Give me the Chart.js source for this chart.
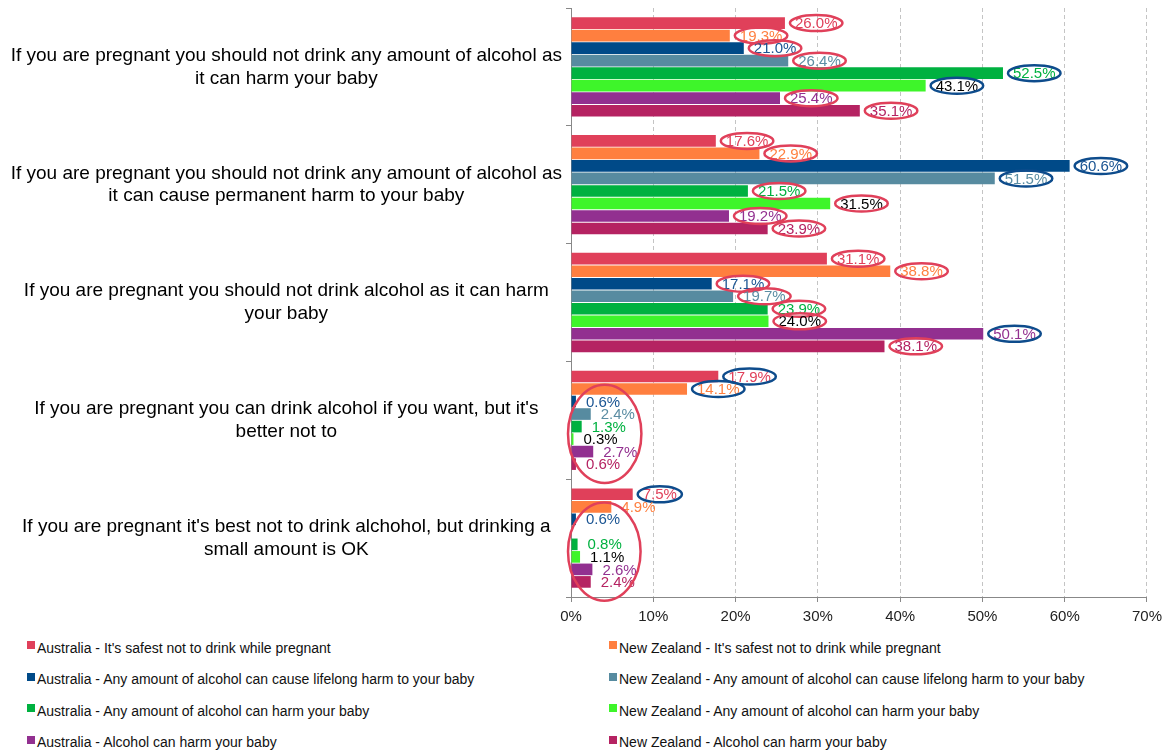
<!DOCTYPE html>
<html>
<head>
<meta charset="utf-8">
<script src="https://cdn.jsdelivr.net/npm/chart.js@4.4.1/dist/chart.umd.min.js"></script>
<style>
  body { margin: 0; background: #fff; font-family: "Liberation Sans", Arial, sans-serif; }
  #wrap { position: relative; width: 1168px; height: 632px; }
  #legend { display: grid; grid-template-columns: 582px 586px; }
  .item { height: 31.5px; display: flex; align-items: center; font-size: 14px; color: #111; white-space: nowrap; padding-left: 27px; }
  .box { width: 8px; height: 8px; margin-right: 2px; margin-top: -5px; }
</style>
</head>
<body>
<div id="wrap"><canvas id="myChart" width="1168" height="632"></canvas></div>
<div id="legend"></div>
<script>
const categories = [
  ["If you are pregnant you should not drink any amount of alcohol as", "it can harm your baby"],
  ["If you are pregnant you should not drink any amount of alcohol as", "it can cause permanent harm to your baby"],
  ["If you are pregnant you should not drink alcohol as it can harm", "your baby"],
  ["If you are pregnant you can drink alcohol if you want, but it's", "better not to"],
  ["If you are pregnant it's best not to drink alchohol, but drinking a", "small amount is OK"]
];

const seriesNames = [
  "Australia - It's safest not to drink while pregnant",
  "New Zealand - It's safest not to drink while pregnant",
  "Australia - Any amount of alcohol can cause lifelong harm to your baby",
  "New Zealand - Any amount of alcohol can cause lifelong harm to your baby",
  "Australia - Any amount of alcohol can harm your baby",
  "New Zealand - Any amount of alcohol can harm your baby",
  "Australia - Alcohol can harm your baby",
  "New Zealand - Alcohol can harm your baby"
];

const ausSafest   = [26.0, 17.6, 31.1, 17.9, 7.5];
const nzSafest    = [19.3, 22.9, 38.8, 14.1, 4.9];
const ausLifelong = [21.0, 60.6, 17.1, 0.6, 0.6];
const nzLifelong  = [26.4, 51.5, 19.7, 2.4, null];
const ausAnyHarm  = [52.5, 21.5, 23.9, 1.3, 0.8];
const nzAnyHarm   = [43.1, 31.5, 24.0, 0.3, 1.1];
const ausHarm     = [25.4, 19.2, 50.1, 2.7, 2.6];
const nzHarm      = [35.1, 23.9, 38.1, 0.6, 2.4];

const xTicks = [0, 10, 20, 30, 40, 50, 60, 70];

// styling
const barColors = ['#E0405A', '#FF7F3F', '#004A88', '#578BA0', '#00B140', '#3EF52A', '#923090', '#B52362'];
const labelColors = ['#E0405A', '#FF8040', '#1B5593', '#5B8DA3', '#00B140', '#000000', '#933190', '#B52362'];
const RED = '#E0405A', BLUE = '#0E4C8C';
// hand drawn rings around labels, per category
const rings = [
  ['r', 'r', 'r', 'r', 'b', 'b', 'r', 'r'],
  ['r', 'r', 'b', 'b', 'r', 'r', 'r', 'r'],
  ['r', 'r', 'r', 'r', 'r', 'r', 'b', 'r'],
  ['b', 'b', '', '', '', '', '', ''],
  ['b', '', '', '', '', '', '', '']
];
const groupRing = [false, false, false, true, true];

const allSeries = [ausSafest, nzSafest, ausLifelong, nzLifelong, ausAnyHarm, nzAnyHarm, ausHarm, nzHarm];

const labelPlugin = {
  id: 'barLabels',
  afterDatasetsDraw(chart) {
    const ctx = chart.ctx;
    const x0 = chart.scales.x.getPixelForValue(0);
    const rightMost = [];
    ctx.save();
    ctx.font = '15px "Liberation Sans", Arial, sans-serif';
    ctx.textBaseline = 'middle';
    chart.data.datasets.forEach((ds, di) => {
      const meta = chart.getDatasetMeta(di);
      meta.data.forEach((bar, i) => {
        const v = ds.data[i];
        if (v == null) return;
        const txt = v.toFixed(1) + '%';
        const w = ctx.measureText(txt).width;
        const x = bar.x + 10;
        const y = bar.y + 1;
        ctx.fillStyle = labelColors[di];
        ctx.fillText(txt, x, y);
        if (di >= 2) rightMost[i] = Math.max(rightMost[i] || 0, x + w);
        const r = rings[i][di];
        if (r) {
          ctx.strokeStyle = r === 'r' ? RED : BLUE;
          ctx.lineWidth = 2.5;
          ctx.beginPath();
          ctx.ellipse(x + w / 2, y - 1, w / 2 + 5, 8, 0, 0, Math.PI * 2);
          ctx.stroke();
        }
      });
    });
    groupRing.forEach((on, i) => {
      if (!on) return;
      const a = chart.getDatasetMeta(2).data[i];
      const b = chart.getDatasetMeta(7).data[i];
      const top = a.y - a.height / 2, bottom = b.y + b.height / 2;
      const left = x0 - 3, right = rightMost[i] + 4;
      ctx.strokeStyle = RED;
      ctx.lineWidth = 2.5;
      ctx.beginPath();
      ctx.ellipse((left + right) / 2, (top + bottom) / 2 + 1, (right - left) / 2, (bottom - top) / 2 + 12, 0, 0, Math.PI * 2);
      ctx.stroke();
    });
    ctx.restore();
  }
};

const chart = new Chart(document.getElementById('myChart'), {
  type: 'bar',
  data: {
    labels: categories,
    datasets: allSeries.map((d, i) => ({
      label: seriesNames[i],
      data: d,
      backgroundColor: barColors[i],
      categoryPercentage: 0.85,
      barPercentage: 0.93
    }))
  },
  options: {
    indexAxis: 'y',
    responsive: false,
    animation: false,
    devicePixelRatio: 1,
    layout: { padding: { top: 8, right: 19, bottom: 0, left: 0 } },
    plugins: { legend: { display: false }, tooltip: { enabled: false } },
    scales: {
      x: {
        min: 0, max: 70,
        afterBuildTicks: s => { s.ticks = xTicks.map(v => ({ value: v })); },
        ticks: { callback: v => v + '%', color: '#222', font: { size: 15, family: '"Liberation Sans", Arial, sans-serif' }, padding: 6 },
        grid: { color: '#c4c4c4', tickColor: '#888', tickLength: 5 },
        border: { color: '#888', dash: [4, 3] }
      },
      y: {
        offset: true,
        afterFit: s => { s.width = 571; s.paddingTop = 0; s.paddingBottom = 0; },
        ticks: { color: '#000', crossAlign: 'center', padding: 4, font: { size: 19, lineHeight: 1.2, family: '"Liberation Sans", Arial, sans-serif' } },
        grid: { offset: true, drawOnChartArea: false, tickLength: 5, color: '#888' },
        border: { color: '#888' }
      }
    }
  },
  plugins: [labelPlugin]
});

const legend = document.getElementById('legend');
chart.data.datasets.forEach(ds => {
  const item = document.createElement('div');
  item.className = 'item';
  item.innerHTML = '<span class="box" style="background:' + ds.backgroundColor + '"></span><span>' + ds.label + '</span>';
  legend.appendChild(item);
});
</script>
</body>
</html>
